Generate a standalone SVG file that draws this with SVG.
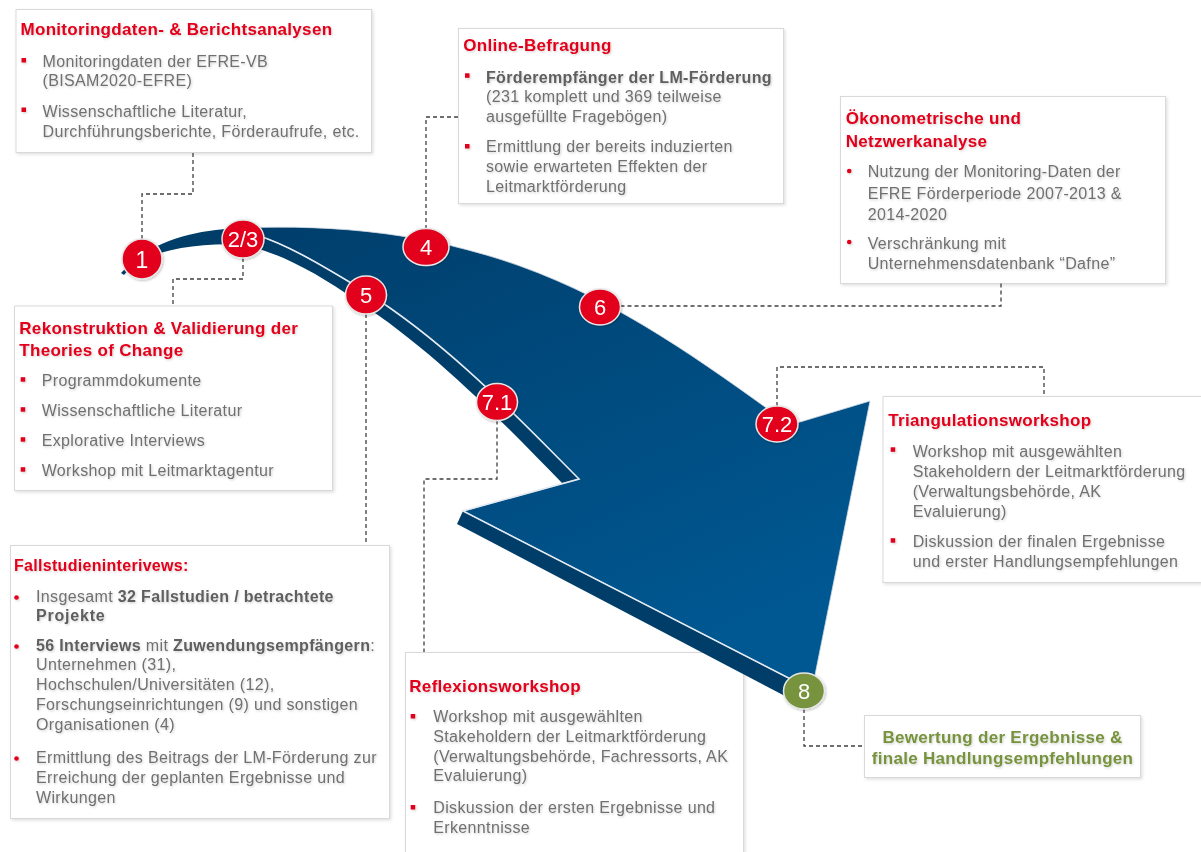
<svg xmlns="http://www.w3.org/2000/svg" width="1201" height="852" viewBox="0 0 1201 852">
  <defs>
    <style>
      .box{fill:#ffffff;stroke:#d9d9d9;stroke-width:1;filter:url(#boxShadow)}
      .ttl{font-family:"Liberation Sans",Arial,sans-serif;font-weight:bold;font-size:17px;fill:#e2001a;letter-spacing:0.3px}
      .txt{font-family:"Liberation Sans",Arial,sans-serif;font-size:16px;fill:#707070;letter-spacing:0.35px}
      .b{font-weight:bold;fill:#5e5e5e}
      .sq{fill:#e2001a}
      .rd{fill:#e2001a}
      .con{fill:none;stroke:#404040;stroke-width:1.3;stroke-dasharray:4 3}
      .dot{fill:#e2001a;stroke:#e6e6e6;stroke-width:1.5}
      .dotg{fill:#77933c;stroke:#e6e6e6;stroke-width:1.5}
      .num{font-family:"Liberation Sans",Arial,sans-serif;font-size:22px;fill:#ffffff;text-anchor:middle}
      .grn{font-family:"Liberation Sans",Arial,sans-serif;font-weight:bold;font-size:17px;fill:#77933c;letter-spacing:0.3px;text-anchor:middle}
      .shade{filter:url(#textShadow)}
    </style>
    <filter id="boxShadow" x="-5%" y="-5%" width="112%" height="115%">
      <feDropShadow dx="1.5" dy="1.5" stdDeviation="1.5" flood-color="#000" flood-opacity="0.12"/>
    </filter>
    <filter id="textShadow" x="-5%" y="-20%" width="110%" height="150%">
      <feDropShadow dx="1" dy="1.2" stdDeviation="0.8" flood-color="#000" flood-opacity="0.18"/>
    </filter>
    <filter id="dotShadow" x="-30%" y="-30%" width="160%" height="160%">
      <feDropShadow dx="0.8" dy="1" stdDeviation="1" flood-color="#000" flood-opacity="0.25"/>
    </filter>
    <linearGradient id="faceGrad" x1="0" y1="0" x2="0.6" y2="1">
      <stop offset="0" stop-color="#003e6b"/>
      <stop offset="1" stop-color="#005892"/>
    </linearGradient>
  </defs>

  <!-- text boxes -->
  <g id="box-monitoring">
    <rect class="box" x="16" y="9.5" width="355.5" height="143"/>
    <g class="shade">
      <text class="ttl" x="20.5" y="35">Monitoringdaten- &amp; Berichtsanalysen</text>
      <rect class="sq" x="21.5" y="58" width="4.5" height="4.5"/>
      <text class="txt" x="42.5" y="66.5">Monitoringdaten der EFRE-VB</text>
      <text class="txt" x="42.5" y="86">(BISAM2020-EFRE)</text>
      <rect class="sq" x="21.5" y="107.5" width="4.5" height="4.5"/>
      <text class="txt" x="42.5" y="117.3">Wissenschaftliche Literatur,</text>
      <text class="txt" x="42.5" y="136.7">Durchführungsberichte, Förderaufrufe, etc.</text>
    </g>
  </g>

  <g id="box-online">
    <rect class="box" x="458.5" y="28.5" width="325" height="175"/>
    <g class="shade">
      <text class="ttl" x="463.3" y="51">Online-Befragung</text>
      <rect class="sq" x="465" y="73.3" width="4.5" height="4.5"/>
      <text class="txt b" x="486" y="82.7">Förderempfänger der LM-Förderung</text>
      <text class="txt" x="486" y="101.7">(231 komplett und 369 teilweise</text>
      <text class="txt" x="486" y="121.7">ausgefüllte Fragebögen)</text>
      <rect class="sq" x="465" y="144" width="4.5" height="4.5"/>
      <text class="txt" x="486" y="151.7">Ermittlung der bereits induzierten</text>
      <text class="txt" x="486" y="171.7">sowie erwarteten Effekten der</text>
      <text class="txt" x="486" y="191.7">Leitmarktförderung</text>
    </g>
  </g>

  <g id="box-oekonometrie">
    <rect class="box" x="840.5" y="96.5" width="325" height="187"/>
    <g class="shade">
      <text class="ttl" x="845.7" y="124.3">Ökonometrische und</text>
      <text class="ttl" x="845.7" y="146.7">Netzwerkanalyse</text>
      <circle class="rd" cx="849.2" cy="171" r="2.3"/>
      <text class="txt" x="867.7" y="177.3">Nutzung der Monitoring-Daten der</text>
      <text class="txt" x="867.7" y="199">EFRE Förderperiode 2007-2013 &amp;</text>
      <text class="txt" x="867.7" y="220">2014-2020</text>
      <circle class="rd" cx="849.2" cy="242" r="2.3"/>
      <text class="txt" x="867.7" y="248.5">Verschränkung mit</text>
      <text class="txt" x="867.7" y="269">Unternehmensdatenbank “Dafne”</text>
    </g>
  </g>

  <g id="box-rekonstruktion">
    <rect class="box" x="14.5" y="306" width="318" height="184.5"/>
    <g class="shade">
      <text class="ttl" x="19.3" y="334.3">Rekonstruktion &amp; Validierung der</text>
      <text class="ttl" x="19.3" y="355.7">Theories of Change</text>
      <rect class="sq" x="20.7" y="377.2" width="4.5" height="4.5"/>
      <text class="txt" x="41.7" y="386">Programmdokumente</text>
      <rect class="sq" x="20.7" y="407.2" width="4.5" height="4.5"/>
      <text class="txt" x="41.7" y="416">Wissenschaftliche Literatur</text>
      <rect class="sq" x="20.7" y="437.2" width="4.5" height="4.5"/>
      <text class="txt" x="41.7" y="446">Explorative Interviews</text>
      <rect class="sq" x="20.7" y="467.2" width="4.5" height="4.5"/>
      <text class="txt" x="41.7" y="476">Workshop mit Leitmarktagentur</text>
    </g>
  </g>

  <g id="box-fallstudien">
    <rect class="box" x="10.5" y="545.5" width="379" height="273"/>
    <g class="shade">
      <text class="ttl" x="14" y="570.7" style="font-size:16px">Fallstudieninterivews:</text>
      <circle class="rd" cx="16.5" cy="597.5" r="2.3"/>
      <text class="txt" x="36" y="601.7">Insgesamt <tspan class="b">32 Fallstudien / betrachtete</tspan></text>
      <text class="txt b" x="36" y="621" style="letter-spacing:0.8px">Projekte</text>
      <circle class="rd" cx="16.5" cy="646.5" r="2.3"/>
      <text class="txt" x="36" y="650.7"><tspan class="b">56 Interviews</tspan> mit <tspan class="b">Zuwendungsempfängern</tspan>:</text>
      <text class="txt" x="36" y="670">Unternehmen (31),</text>
      <text class="txt" x="36" y="690">Hochschulen/Universitäten (12),</text>
      <text class="txt" x="36" y="710">Forschungseinrichtungen (9) und sonstigen</text>
      <text class="txt" x="36" y="730">Organisationen (4)</text>
      <circle class="rd" cx="16.5" cy="758.5" r="2.3"/>
      <text class="txt" x="36" y="763.3">Ermittlung des Beitrags der LM-Förderung zur</text>
      <text class="txt" x="36" y="783.3">Erreichung der geplanten Ergebnisse und</text>
      <text class="txt" x="36" y="802.7">Wirkungen</text>
    </g>
  </g>

  <g id="box-reflexion">
    <rect class="box" x="405.5" y="652.5" width="338" height="215"/>
    <g class="shade">
      <text class="ttl" x="409.3" y="691.7">Reflexionsworkshop</text>
      <rect class="sq" x="410.7" y="714" width="4.5" height="4.5"/>
      <text class="txt" x="433.3" y="721.7">Workshop mit ausgewählten</text>
      <text class="txt" x="433.3" y="741.7">Stakeholdern der Leitmarktförderung</text>
      <text class="txt" x="433.3" y="761.7">(Verwaltungsbehörde, Fachressorts, AK</text>
      <text class="txt" x="433.3" y="781">Evaluierung)</text>
      <rect class="sq" x="410.7" y="805" width="4.5" height="4.5"/>
      <text class="txt" x="433.3" y="812.7">Diskussion der ersten Ergebnisse und</text>
      <text class="txt" x="433.3" y="832.7">Erkenntnisse</text>
    </g>
  </g>

  <g id="box-triangulation">
    <rect class="box" x="883" y="396.5" width="330" height="186"/>
    <g class="shade">
      <text class="ttl" x="888.3" y="426">Triangulationsworkshop</text>
      <rect class="sq" x="890.7" y="447.3" width="4.5" height="4.5"/>
      <text class="txt" x="912.7" y="456.7">Workshop mit ausgewählten</text>
      <text class="txt" x="912.7" y="477.3">Stakeholdern der Leitmarktförderung</text>
      <text class="txt" x="912.7" y="497.3">(Verwaltungsbehörde, AK</text>
      <text class="txt" x="912.7" y="517.3">Evaluierung)</text>
      <rect class="sq" x="890.7" y="538.2" width="4.5" height="4.5"/>
      <text class="txt" x="912.7" y="546.7">Diskussion der finalen Ergebnisse</text>
      <text class="txt" x="912.7" y="567.3">und erster Handlungsempfehlungen</text>
    </g>
  </g>

  <g id="box-bewertung">
    <rect class="box" x="864.5" y="715.5" width="276" height="62"/>
    <g class="shade">
      <text class="grn" x="1002.5" y="742.7">Bewertung der Ergebnisse &amp;</text>
      <text class="grn" x="1002.5" y="764">finale Handlungsempfehlungen</text>
    </g>
  </g>

  <!-- curved process arrow: dark side faces, lighter top face, light edge highlight -->
  <g id="arrow">
    <path fill="#003e69" d="M121,273 C150,241 195,229 245,228 L250,233 C285,243 320,264 366,292 C450,345 520,420 579,479 L563,484 C505,425 440,355 356,300 C318,274 280,252 240,244 C190,244 145,250 124,275 Z"/>
    <path fill="#003e69" d="M463,511 L812,690 L806,707 L457,524 Z"/>
    <path fill="url(#faceGrad)" stroke="#cfd8e2" stroke-width="0.8" d="M240,228 C340,224 430,234 520,266 C620,302 700,360 790,425 L870,401 L812,690 L463,511 L579,479 C520,420 450,345 366,292 C320,264 285,243 250,233 Z"/>
    <path fill="none" stroke="#e4eaf1" stroke-width="1.6" d="M250,233 C285,243 320,264 366,292 C450,345 520,420 579,479 L463,511 L812,690"/>
  </g>

  <!-- dashed leader lines -->
  <g id="connectors">
    <path class="con" d="M193,153 V194 H142 V239"/>
    <path class="con" d="M243,258 V279 H173 V306"/>
    <path class="con" d="M458,117 H426 V229"/>
    <path class="con" d="M366,314 V545"/>
    <path class="con" d="M497,420.5 V479 H424 V652"/>
    <path class="con" d="M620.5,306 H1001 V283.5"/>
    <path class="con" d="M777,406 V367 H1044 V396"/>
    <path class="con" d="M804,709 V746 H864"/>
  </g>

  <!-- numbered step markers -->
  <g id="step-1" filter="url(#dotShadow)"><ellipse class="dot" cx="142" cy="259" rx="20" ry="20"/><text class="num" x="142" y="267.5" style="font-size:23px">1</text></g>
  <g id="step-2-3" filter="url(#dotShadow)"><ellipse class="dot" cx="243" cy="239" rx="21" ry="19"/><text class="num" x="243" y="247">2/3</text></g>
  <g id="step-4" filter="url(#dotShadow)"><ellipse class="dot" cx="426" cy="247" rx="23" ry="18.5"/><text class="num" x="426" y="255">4</text></g>
  <g id="step-5" filter="url(#dotShadow)"><ellipse class="dot" cx="366" cy="295" rx="20.5" ry="19"/><text class="num" x="366" y="303">5</text></g>
  <g id="step-6" filter="url(#dotShadow)"><ellipse class="dot" cx="600" cy="307" rx="20.5" ry="18"/><text class="num" x="600" y="315">6</text></g>
  <g id="step-7-1" filter="url(#dotShadow)"><ellipse class="dot" cx="497" cy="402" rx="20.5" ry="18.5"/><text class="num" x="497" y="410">7.1</text></g>
  <g id="step-7-2" filter="url(#dotShadow)"><ellipse class="dot" cx="777" cy="424" rx="21" ry="18"/><text class="num" x="777" y="432">7.2</text></g>
  <g id="step-8" filter="url(#dotShadow)"><ellipse class="dotg" cx="804" cy="691" rx="20.5" ry="18"/><text class="num" x="804" y="699">8</text></g>
</svg>
